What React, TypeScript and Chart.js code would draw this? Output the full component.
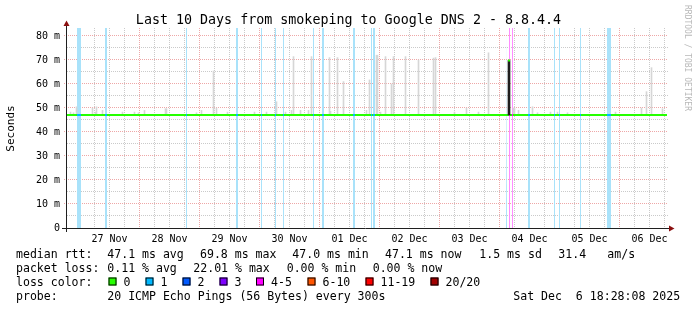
import React, { useEffect, useRef } from 'react';
import { Chart, registerables } from 'chart.js';

Chart.register(...registerables);

// ---------- data (x values are hours relative to 27 Nov 00:00) ----------
const TITLE = 'Last 10 Days from smokeping to Google DNS 2 - 8.8.4.4';
const X_MIN = -5;
const X_MAX = 235;
const Y_MIN = 0;
const Y_MAX = 83.33;

const dayTickHours = [12, 36, 60, 84, 108, 132, 156, 180, 204, 228];
const dayTickLabels = ['27 Nov', '28 Nov', '29 Nov', '30 Nov', '01 Dec', '02 Dec', '03 Dec', '04 Dec', '05 Dec', '06 Dec'];
const yTickValues = [0, 10, 20, 30, 40, 50, 60, 70, 80];
const yTickLabels = ['0', '10 m', '20 m', '30 m', '40 m', '50 m', '60 m', '70 m', '80 m'];

const medianRtt = 47.1;

// loss 1/20 periods
const loss1Start = [-1.0, 10.2, 42.6, 62.6, 72.6, 78.2, 81.4, 93.4, 97.0, 109.4, 116.6, 117.4, 170.6, 179.4, 189.8, 191.8, 200.2, 211.0];
const loss1End = [0.6, 11.0, 43.0, 63.4, 73.0, 78.6, 81.8, 93.8, 97.8, 110.2, 117.0, 118.2, 171.0, 180.2, 190.2, 192.2, 200.6, 212.6];
// loss 4-5/20 periods
const loss45Start = [171.8, 173.0];
const loss45End = [172.2, 173.4];

// smoke (ping spread) – hour and top value in ms
const smokeHours = [
  -3.6, -2.4, -1.2, 5.2, 6.4, 6.8, 9.2, 17.2, 22.0, 23.6, 26.0, 34.4, 34.8, 46.8, 48.8, 53.6, 54.8, 59.2,
  70.0, 74.8, 78.8, 82.4, 84.8, 85.6, 88.4, 91.6, 92.8, 100.0, 100.4, 103.2, 105.6, 114.8, 116.0, 118.8,
  119.2, 120.4, 122.4, 124.8, 125.6, 130.4, 135.6, 141.6, 142.4, 150.0, 154.8, 159.6, 163.6, 173.6, 174.0,
  175.6, 181.2, 183.2, 188.4, 191.2, 195.2, 214.4, 224.8, 226.8, 228.8, 233.2,
];
const smokeTops = [
  48.3, 48.0, 50.5, 50.0, 48.3, 50.5, 49.0, 48.3, 48.3, 48.0, 49.0, 49.7, 49.7, 48.0, 49.0, 65.4, 50.0, 48.3,
  48.3, 48.3, 52.6, 48.3, 49.0, 71.4, 49.0, 49.0, 71.4, 71.0, 48.6, 71.0, 61.0, 49.0, 61.7, 72.0,
  72.0, 48.3, 71.4, 60.0, 71.4, 71.4, 70.0, 70.8, 71.0, 48.3, 50.0, 48.3, 73.0, 50.0, 50.0,
  49.0, 50.5, 48.0, 48.3, 48.3, 48.0, 48.3, 50.0, 56.8, 66.8, 49.7,
];
const smokeLow = 46.9;

// median peak (69.8 ms max)
const peakHour = 171.8;
const peakStart = 171.4;
const peakEnd = 172.2;
const peakRtt = 69.8;

const legendMedian = ['median rtt:', '47.1 ms avg', '69.8 ms max', '47.0 ms min', '47.1 ms now', '1.5 ms sd', '31.4', 'am/s'];
const legendLoss = ['packet loss:', '0.11 % avg', '22.01 % max', '0.00 % min', '0.00 % now'];
const lossLabels = ['0', '1', '2', '3', '4-5', '6-10', '11-19', '20/20'];
const lossColors = ['#26ff00', '#00b8ff', '#0059ff', '#7e00ff', '#ff00ff', '#ff5500', '#ff0000', '#a10000'];
const probeText = ['probe:', '20 ICMP Echo Pings (56 Bytes) every 300s', 'Sat Dec  6 18:28:08 2025'];

// ---------- helpers ----------
const band = (starts: number[], ends: number[], y: number) =>
  starts.flatMap((s, i) => [
    { x: s, y },
    { x: ends[i], y },
    { x: ends[i], y: null as any },
  ]);

const MONO = '"DejaVu Sans Mono"';
const MINOR_GRID = 'rgba(150,150,150,0.5)';
const MAJOR_GRID = 'rgba(222,79,79,0.5)';

const rrdPlugin = {
  id: 'rrd',
  beforeDatasetsDraw(chart: any) {
    const { ctx, chartArea: a, scales } = chart;
    const xs = scales.x;
    const ys = scales.y;
    ctx.save();
    ctx.lineWidth = 1;
    ctx.setLineDash([1, 1]);
    // vertical grid: minor every 6 h, major at midnight
    for (let h = Math.ceil(X_MIN / 6) * 6; h < X_MAX; h += 6) {
      if (h <= X_MIN) continue;
      const px = Math.floor(xs.getPixelForValue(h)) + 0.5;
      const major = h % 24 === 0;
      ctx.strokeStyle = major ? MAJOR_GRID : MINOR_GRID;
      ctx.beginPath();
      ctx.moveTo(px, a.top);
      ctx.lineTo(px, a.bottom);
      ctx.stroke();
    }
    // horizontal grid: minor every 5, major every 10
    for (let v = 5; v < Y_MAX; v += 5) {
      const py = Math.floor(ys.getPixelForValue(v)) + 0.5;
      const major = v % 10 === 0;
      ctx.strokeStyle = major ? MAJOR_GRID : MINOR_GRID;
      ctx.beginPath();
      ctx.moveTo(major ? a.left - 3 : a.left, py);
      ctx.lineTo(a.right + 1, py);
      ctx.stroke();
    }
    ctx.restore();
  },
  afterDatasetsDraw(chart: any) {
    const { ctx, chartArea: a } = chart;
    ctx.save();
    ctx.lineWidth = 1;
    ctx.strokeStyle = '#1f1f1f';
    ctx.beginPath();
    ctx.moveTo(a.left - 5, a.bottom + 0.5);
    ctx.lineTo(a.right + 2, a.bottom + 0.5);
    ctx.stroke();
    ctx.beginPath();
    ctx.moveTo(a.left - 0.5, a.bottom + 4);
    ctx.lineTo(a.left - 0.5, a.top - 3);
    ctx.stroke();
    ctx.fillStyle = '#8b1010';
    ctx.beginPath();
    ctx.moveTo(a.left - 3.5, a.top - 2);
    ctx.lineTo(a.left + 2.5, a.top - 2);
    ctx.lineTo(a.left - 0.5, a.top - 7.5);
    ctx.closePath();
    ctx.fill();
    ctx.beginPath();
    ctx.moveTo(a.right + 2, a.bottom - 2.5);
    ctx.lineTo(a.right + 2, a.bottom + 3.5);
    ctx.lineTo(a.right + 7.5, a.bottom + 0.5);
    ctx.closePath();
    ctx.fill();
    ctx.restore();
  },
  afterDraw(chart: any) {
    const { ctx } = chart;
    ctx.save();
    ctx.fillStyle = '#000';
    // title
    ctx.font = `13.33px ${MONO}`;
    ctx.textAlign = 'center';
    ctx.textBaseline = 'alphabetic';
    ctx.fillText(TITLE, 348.5, 24);
    // y title
    ctx.save();
    ctx.font = `11px ${MONO}`;
    ctx.translate(14, 128.5);
    ctx.rotate(-Math.PI / 2);
    ctx.textAlign = 'center';
    ctx.fillText('Seconds', 0, 0);
    ctx.restore();
    // watermark
    ctx.save();
    ctx.font = `8px ${MONO}`;
    ctx.fillStyle = '#b8b8b8';
    ctx.translate(684.5, 5);
    ctx.rotate(Math.PI / 2);
    ctx.textAlign = 'left';
    ctx.fillText('RRDTOOL / TOBI OETIKER', 0, 0);
    ctx.restore();
    // legend
    ctx.font = `11.55px ${MONO}`;
    ctx.textAlign = 'left';
    const l1x = [16, 107.3, 200, 292.3, 385, 479.3, 558.3, 607.3];
    legendMedian.forEach((t, i) => ctx.fillText(t, l1x[i], 257.5));
    const l2x = [16, 107.3, 193.3, 286.7, 372.7];
    legendLoss.forEach((t, i) => ctx.fillText(t, l2x[i], 271.5));
    ctx.fillText('loss color:', 16, 285.5);
    const boxX = [108.5, 145.5, 182.5, 219.5, 256, 307.5, 365.5, 430.5];
    lossLabels.forEach((t, i) => {
      ctx.fillStyle = lossColors[i];
      ctx.fillRect(boxX[i], 277.5, 8, 8);
      ctx.strokeStyle = '#000';
      ctx.lineWidth = 1;
      ctx.strokeRect(boxX[i] + 0.5, 277.5 + 0.5, 7, 7);
      ctx.fillStyle = '#000';
      ctx.fillText(t, boxX[i] + 15, 285.5);
    });
    const l4x = [16, 107.3, 513.3];
    probeText.forEach((t, i) => ctx.fillText(t, l4x[i], 299.5));
    ctx.restore();
  },
};

export default function App() {
  const ref = useRef<HTMLCanvasElement>(null);
  useEffect(() => {
    Chart.defaults.font.family = MONO;
    const datasets: any[] = [
      {
        type: 'line',
        data: band(loss1Start, loss1End, Y_MAX),
        borderColor: 'transparent',
        borderWidth: 0,
        backgroundColor: '#a9e2fa',
        fill: 'origin',
        pointRadius: 0,
        spanGaps: false,
        order: 10,
      },
      {
        type: 'line',
        data: band(loss45Start, loss45End, Y_MAX),
        borderColor: 'transparent',
        borderWidth: 0,
        backgroundColor: '#ff8cff',
        fill: 'origin',
        pointRadius: 0,
        spanGaps: false,
        order: 9,
      },
      {
        type: 'bar',
        data: smokeHours.map((h, i) => ({ x: h, y: [smokeLow, smokeTops[i]] })),
        backgroundColor: '#d6d6d6',
        barThickness: 1,
        grouped: false,
        borderWidth: 0,
        order: 8,
      },
      {
        type: 'line',
        data: [
          { x: X_MIN, y: medianRtt },
          { x: X_MAX, y: medianRtt },
        ],
        borderColor: '#26ff00',
        borderWidth: 2,
        pointRadius: 0,
        fill: false,
        order: 7,
      },
      {
        type: 'line',
        data: band(loss1Start, loss1End, medianRtt),
        borderColor: lossColors[1],
        borderWidth: 2,
        pointRadius: 0,
        fill: false,
        spanGaps: false,
        order: 6,
      },
      {
        type: 'line',
        data: band(loss45Start, loss45End, medianRtt),
        borderColor: lossColors[4],
        borderWidth: 2,
        pointRadius: 0,
        fill: false,
        spanGaps: false,
        order: 5,
      },
      {
        type: 'bar',
        data: [{ x: peakHour, y: [medianRtt, peakRtt] }],
        backgroundColor: '#1e1e1e',
        barThickness: 2,
        grouped: false,
        borderWidth: 0,
        order: 4,
      },
      {
        type: 'line',
        data: [
          { x: peakStart, y: peakRtt },
          { x: peakEnd, y: peakRtt },
        ],
        borderColor: '#26ff00',
        borderWidth: 2,
        pointRadius: 0,
        fill: false,
        order: 3,
      },
    ];
    const chart = new Chart(ref.current as HTMLCanvasElement, {
      type: 'line',
      data: { datasets },
      options: {
        responsive: false,
        animation: false,
        devicePixelRatio: 1,
        events: [],
        layout: { padding: { left: 0, right: 30, top: 28, bottom: 0 } },
        plugins: { legend: { display: false }, title: { display: false }, tooltip: { enabled: false } },
        scales: {
          x: {
            type: 'linear',
            min: X_MIN,
            max: X_MAX,
            offset: false,
            grid: { display: false, drawTicks: false, offset: false },
            border: { display: false },
            afterBuildTicks: (s: any) => {
              s.ticks = dayTickHours.map((v) => ({ value: v }));
            },
            afterFit: (s: any) => {
              s.height = 82;
            },
            ticks: {
              autoSkip: false,
              maxRotation: 0,
              minRotation: 0,
              padding: 5,
              color: '#000',
              font: { family: MONO, size: 10 },
              callback: (_v: any, i: number) => dayTickLabels[i],
            },
          },
          y: {
            type: 'linear',
            min: Y_MIN,
            max: Y_MAX,
            grid: { display: false, drawTicks: false },
            border: { display: false },
            afterBuildTicks: (s: any) => {
              s.ticks = yTickValues.map((v) => ({ value: v }));
            },
            afterFit: (s: any) => {
              s.width = 67;
            },
            ticks: {
              padding: 7,
              color: '#000',
              font: { family: MONO, size: 10 },
              callback: (_v: any, i: number) => yTickLabels[i],
            },
          },
        },
      } as any,
      plugins: [rrdPlugin],
    });
    return () => chart.destroy();
  }, []);
  return (
    <div style={{ position: 'fixed', left: 0, top: 0, width: 697, height: 310, background: '#fff' }}>
      <canvas ref={ref} width={697} height={310} style={{ display: 'block' }} />
    </div>
  );
}
